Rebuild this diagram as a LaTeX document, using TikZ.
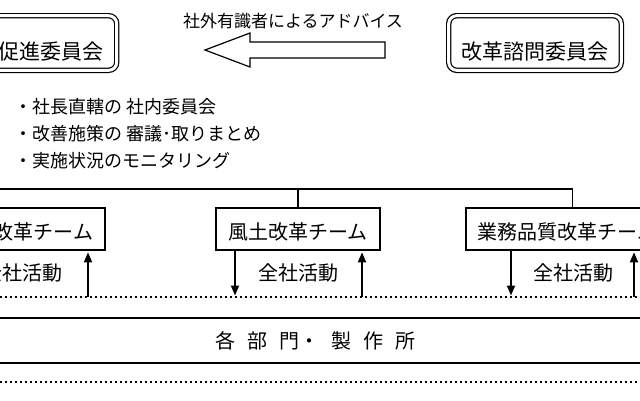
\documentclass[tikz,border=0pt]{standalone}
\usepackage{fontspec}
\newfontfamily\jfont{Noto Sans CJK JP}
\usetikzlibrary{arrows.meta}

\begin{document}
\begin{tikzpicture}[x=1pt, y=-1pt,
  comm/.style={draw, double, double distance=3pt, line width=1.2pt, rounded corners=8pt,
    inner xsep=12.8pt, inner ysep=0pt, text height=43.3pt, text depth=11.3pt,
    font=\jfont\fontsize{21}{21}\selectfont},
  team/.style={draw, line width=1.6pt, inner xsep=12pt, inner ysep=0pt,
    text height=31pt, text depth=11pt, font=\jfont\fontsize{20}{20}\selectfont},
  memo/.style={inner sep=0pt, anchor=base west, font=\jfont\fontsize{18}{18}\selectfont},
  act/.style={inner sep=0pt, font=\jfont\fontsize{20}{20}\selectfont},
  link/.style={line width=1.6pt},
  flow/.style={line width=1.8pt, -{Triangle[width=8pt,length=10pt]}, shorten >=1.5pt},
  dotline/.style={line width=2.2pt, dash pattern=on 2.2pt off 2.8pt}]
\useasboundingbox (0,0) rectangle (640,400);
\clip (0,0) rectangle (640,400);

% committees
\node[comm, anchor=base east] (suishin) at (117.3,59) {促進委員会};
\node[comm, anchor=base] (shimon) at (535,59) {改革諮問委員会};

% advice arrow
\node[inner sep=0pt, anchor=base, font=\jfont\fontsize{17}{17}\selectfont] (advice) at (293,27.5) {社外有識者によるアドバイス};
\draw[line width=1.2pt, line join=miter] (205,50) -- (250,33) -- (250,42) -- (385,42)
  -- (385,58) -- (250,58) -- (250,67) -- cycle;

% roles
\node[memo] (role1) at (14,113) {・社長直轄の\hspace{4pt}社内委員会};
\node[memo] (role2) at (14,140) {・改善施策の\hspace{4pt}審議･取りまとめ};
\node[memo] (role3) at (14,167) {・実施状況のモニタリング};

% teams
\node[team, anchor=base east] (kaikaku) at (106,239) {改革チーム};
\node[team, anchor=base, minimum width=164pt] (fudo) at (298,239) {風土改革チーム};
\node[team, anchor=base west] (gyomu) at (465,239) {業務品質改革チーム};

\coordinate (busL) at (-10,189);
\draw[link] (busL) -| ([xshift=5pt]gyomu.north);
\draw[link] (fudo.north) -- (fudo.north |- busL);

% company-wide activity
\coordinate (dotL) at (-5,297);
\coordinate (dotR) at (645,297);
\draw[dotline] (dotL) -- (dotR);

\coordinate (u1) at (88,297);
\coordinate (d2) at (235,297);
\coordinate (u2) at (362,297);
\coordinate (d3) at (511,297);
\coordinate (u3) at (634,297);
\draw[flow] (u1) -- (kaikaku.south -| u1);
\draw[flow] (fudo.south -| d2) -- (d2);
\draw[flow] (u2) -- (fudo.south -| u2);
\draw[flow] (gyomu.south -| d3) -- (d3);
\draw[flow] (u3) -- (gyomu.south -| u3);

\node[act] (act1) at (23,273) {全社活動};
\node[act] (act2) at (298,273) {全社活動};
\node[act] (act3) at (573,273) {全社活動};

% departments
\node[draw, line width=2.2pt, anchor=base, minimum width=900pt, inner ysep=0pt,
  text height=30.8pt, text depth=14.2pt, font=\jfont\fontsize{20}{20}\selectfont]
  (bumon) at (315.5,348.8)
  {各\hspace{12pt}部\hspace{12pt}門・\hspace{12pt}製\hspace{12pt}作\hspace{12pt}所};

\coordinate (dot2L) at (-5,382);
\coordinate (dot2R) at (645,382);
\draw[dotline] (dot2L) -- (dot2R);
\end{tikzpicture}
\end{document}
